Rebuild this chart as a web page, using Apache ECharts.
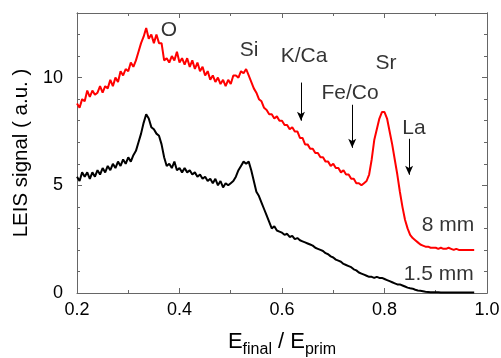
<!DOCTYPE html>
<html>
<head>
<meta charset="utf-8">
<script src="https://cdn.jsdelivr.net/npm/echarts@6/dist/echarts.min.js"></script>
<style>html,body{margin:0;padding:0;background:#fff}#c{width:501px;height:358px}</style>
</head>
<body>
<div id="c"></div>
<script>
// E_final / E_prim sampling: starts at 0.200, step 0.005
const xStart = 0.2;
const xStep = 0.005;

// 8 mm spectrum (red)
const signal8mm = [
  8.8, 8.6, 9.0, 8.9, 9.4, 9.1, 9.4, 9.2, 9.3, 9.6,
  9.3, 9.6, 9.5, 9.9, 9.6, 10.0, 9.8, 10.3, 10.1, 10.4,
  10.3, 10.7, 10.5, 10.8, 11.2, 11.6, 11.9, 12.3, 11.8, 12.0,
  11.6, 12.0, 11.6, 11.6, 10.8, 10.9, 10.7, 11.0, 10.8, 11.2,
  10.7, 10.9, 10.6, 10.9, 10.5, 10.8, 10.4, 10.7, 10.3, 10.5,
  10.1, 10.3, 9.9, 10.1, 9.8, 10.0, 9.7, 9.9, 9.6, 9.9,
  9.7, 10.1, 10.1, 10.0, 10.3, 10.2, 10.4, 10.1, 9.8, 9.5,
  9.3, 9.0, 8.9, 8.6, 8.5, 8.3, 8.3, 8.1, 8.2, 8.0,
  8.0, 7.8, 7.8, 7.6, 7.7, 7.5, 7.5, 7.2, 7.2, 6.9,
  6.9, 6.7, 6.7, 6.5, 6.5, 6.3, 6.3, 6.1, 6.1, 5.9,
  6.0, 5.8, 5.8, 5.6, 5.7, 5.5, 5.5, 5.3, 5.3, 5.1,
  5.1, 5.0, 5.1, 5.2, 5.5, 6.2, 7.1, 7.6, 8.1, 8.4,
  8.4, 8.1, 7.5, 6.9, 6.2, 5.5, 4.7, 4.0, 3.4, 3.0,
  2.7, 2.55, 2.45, 2.35, 2.25, 2.2, 2.15, 2.15, 2.1, 2.1,
  2.1, 2.05, 2.1, 2.05, 2.05, 2.1, 2.05, 2.0, 2.05, 2.0,
  2.0, 2.0, 2.0, 2.0, 2.0, 2.0
];

// 1.5 mm spectrum (black)
const signal15mm = [
  5.4, 5.2, 5.6, 5.4, 5.6, 5.3, 5.6, 5.4, 5.7, 5.5,
  5.8, 5.6, 5.9, 5.7, 6.0, 5.8, 6.1, 5.9, 6.2, 6.0,
  6.3, 6.1, 6.4, 6.6, 7.0, 7.4, 7.9, 8.3, 8.1, 7.7,
  7.6, 7.4, 7.3, 6.9, 6.3, 5.9, 6.0, 5.8, 6.1, 5.7,
  5.8, 5.6, 5.8, 5.6, 5.7, 5.5, 5.6, 5.4, 5.5, 5.3,
  5.4, 5.2, 5.3, 5.1, 5.3, 5.0, 5.2, 4.9, 5.1, 5.0,
  5.1, 5.2, 5.4, 5.7, 5.9, 6.1, 6.0, 6.1, 5.7, 5.2,
  4.7, 4.5, 4.2, 3.9, 3.6, 3.3, 3.0, 3.1, 2.9, 2.85,
  2.8, 2.7, 2.75, 2.6, 2.65, 2.5, 2.55, 2.45, 2.4, 2.35,
  2.3, 2.25, 2.2, 2.1, 2.05, 2.0, 1.95, 1.85, 1.8, 1.7,
  1.65, 1.55, 1.5, 1.45, 1.35, 1.3, 1.25, 1.2, 1.1, 1.05,
  0.95, 0.9, 0.85, 0.8, 0.75, 0.75, 0.7, 0.75, 0.7, 0.7,
  0.65, 0.6, 0.55, 0.5, 0.45, 0.4, 0.4, 0.35, 0.3, 0.25,
  0.22, 0.2, 0.15, 0.12, 0.1, 0.08, 0.06, 0.05, 0.04, 0.03,
  0.03, 0.03, 0.02, 0.02, 0.02, 0.02, 0.02, 0.02, 0.02, 0.02,
  0.02, 0.02, 0.02, 0.02, 0.02, 0.02
];

const xTicks = [0.2, 0.4, 0.6, 0.8, 1.0];
const yTicks = [0, 5, 10];

// Text annotations [label, x, y] in data units
const annotations = [
  ['O', 0.3795, 12.19],
  ['Si', 0.5356, 11.26],
  ['K/Ca', 0.643, 10.98],
  ['Fe/Co', 0.7327, 9.26],
  ['Sr', 0.803, 10.65],
  ['La', 0.8576, 7.63],
  ['8 mm', 0.924, 3.16],
  ['1.5 mm', 0.906, 0.88]
];
// Arrows [x, yFrom, yTo]
const arrows = [
  [0.637, 9.77, 8.0],
  [0.737, 8.74, 6.74],
  [0.848, 7.16, 5.49]
];

const pair = (vals) => vals.map((v, i) => [+(xStart + i * xStep).toFixed(3), v]);

const FONT = 'Liberation Sans';
const AX = '#666';
const TXT = '#000';
const chart = echarts.init(document.getElementById('c'), null, {renderer: 'canvas'});

function yAx(pos, interval, len, labels) {
  return {
    type: 'value', position: pos, min: 0, max: 13, interval: interval,
    axisLine: {show: true, lineStyle: {color: AX, width: 1}},
    axisTick: {show: true, inside: true, length: len, lineStyle: {color: AX}},
    splitLine: {show: false},
    axisLabel: labels ? {
      show: true, margin: 14, fontSize: 18, fontFamily: FONT, color: TXT,
      formatter: v => (yTicks.indexOf(v) >= 0 ? String(v) : '')
    } : {show: false},
    name: labels ? 'LEIS signal ( a.u. )' : '',
    nameLocation: 'middle', nameGap: 45,
    nameTextStyle: {fontSize: 20.5, fontFamily: FONT, color: TXT}
  };
}
function xAx(pos, labels) {
  return {
    type: 'value', position: pos, min: 0.2, max: 1.0, interval: 0.2,
    axisLine: {show: true, onZero: false, lineStyle: {color: AX, width: 1}},
    axisTick: {show: true, inside: true, length: 5, lineStyle: {color: AX}},
    minorTick: {show: true, splitNumber: 2, length: 3, lineStyle: {color: AX}},
    splitLine: {show: false},
    axisLabel: labels ? {
      show: true, margin: 8, fontSize: 18, fontFamily: FONT, color: TXT,
      formatter: v => {
        const r = Math.round(v * 10) / 10;
        return xTicks.some(t => Math.abs(t - r) < 1e-6) ? r.toFixed(1) : '';
      }
    } : {show: false},
    name: labels ? '{e|E}{s|final}{e| / E}{s|prim}' : '',
    nameLocation: 'middle', nameGap: 38,
    nameTextStyle: {
      fontFamily: FONT, color: TXT,
      rich: {
        e: {fontSize: 22, fontFamily: FONT, color: TXT, verticalAlign: 'bottom'},
        s: {fontSize: 16, fontFamily: FONT, color: TXT, verticalAlign: 'bottom', padding: [0, 0, -5, 0]}
      }
    }
  };
}

chart.setOption({
  animation: false,
  grid: {left: 77, right: 14, top: 13, bottom: 65, containLabel: false, outerBoundsMode: 'none'},
  xAxis: [xAx('bottom', true), xAx('top', false)],
  yAxis: [yAx('left', 1, 3, true), yAx('left', 5, 5, false), yAx('right', 1, 3, false), yAx('right', 5, 5, false)],
  series: [
    {
      type: 'line', name: '8 mm', xAxisIndex: 0, yAxisIndex: 0,
      data: pair(signal8mm), showSymbol: false, symbol: 'none',
      lineStyle: {color: '#ff0000', width: 2}, z: 3
    },
    {
      type: 'line', name: '1.5 mm', xAxisIndex: 0, yAxisIndex: 0,
      data: pair(signal15mm), showSymbol: false, symbol: 'none',
      lineStyle: {color: '#000000', width: 2}, z: 3,
      markLine: {
        silent: true, symbol: ['none', 'arrow'], symbolSize: [6, 9],
        label: {show: false},
        lineStyle: {color: '#000', width: 1, type: 'solid'},
        data: arrows.map(a => [{coord: [a[0], a[1]]}, {coord: [a[0], a[2]]}])
      }
    },
    {
      type: 'scatter', xAxisIndex: 0, yAxisIndex: 0, symbolSize: 0, silent: true,
      data: annotations.map(a => ({name: a[0], value: [a[1], a[2]]})),
      label: {
        show: true, position: 'inside', formatter: p => p.name,
        fontSize: 21, fontFamily: FONT, color: TXT
      }
    }
  ]
});
</script>
</body>
</html>
